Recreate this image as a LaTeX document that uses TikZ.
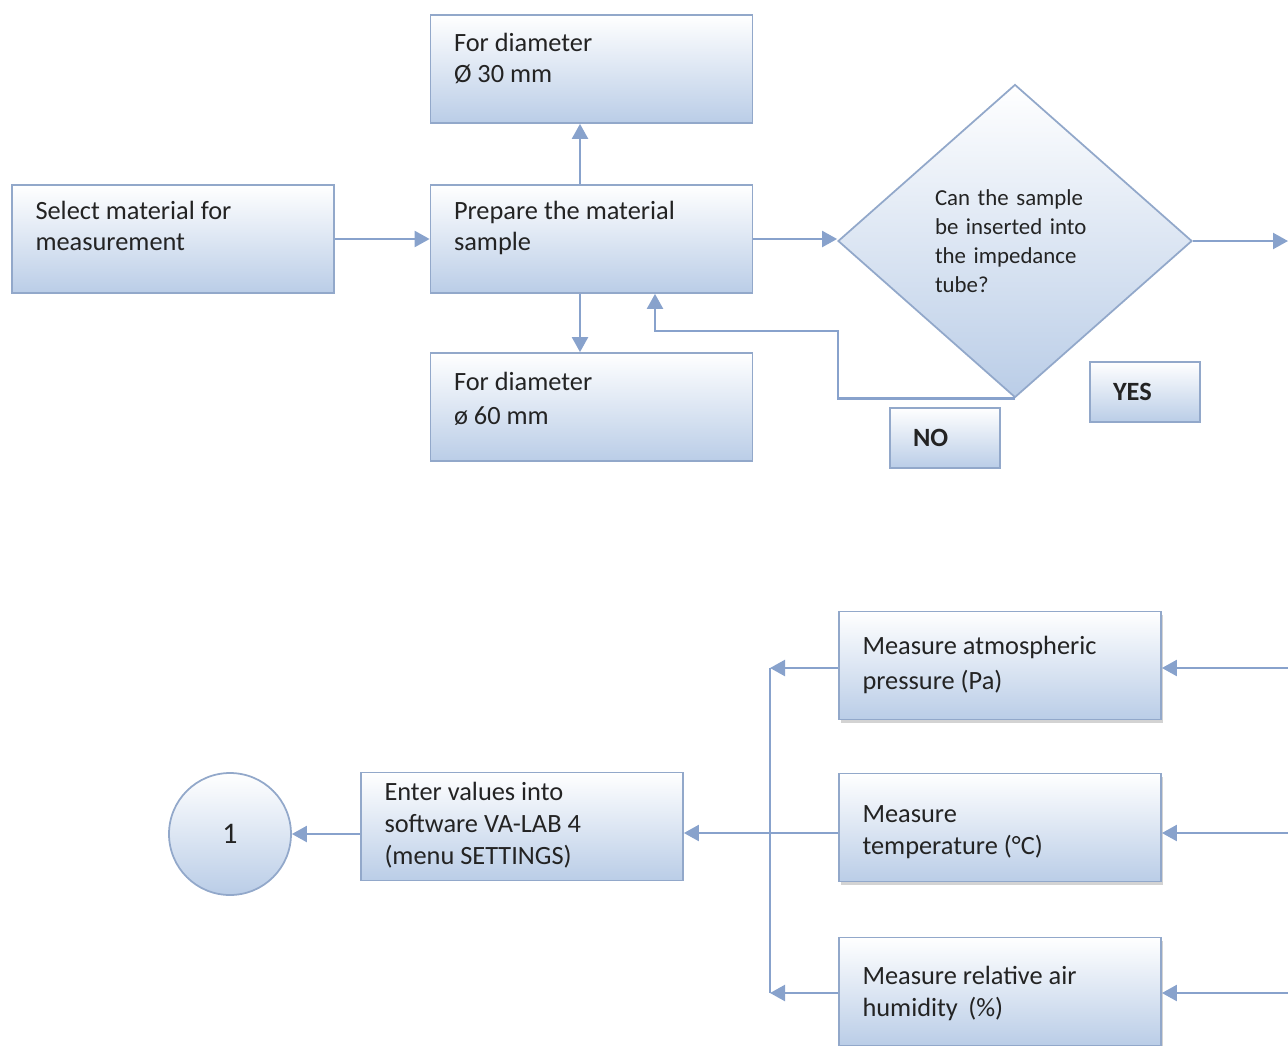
\documentclass[tikz,border=0pt]{standalone}
\usepackage{fontspec}
\setmainfont{Carlito}
\usetikzlibrary{positioning, calc, shapes.geometric, arrows.meta, shadows}

\definecolor{boxedge}{RGB}{146,168,202}
\definecolor{boxfill}{RGB}{186,205,231}
\definecolor{linecol}{RGB}{136,162,204}
\definecolor{txtgray}{RGB}{35,35,35}

% text at the top of a box: [top skip]{lines}
\newcommand{\btext}[2][0.32cm]{\parbox[c][2.16cm][t]{5.5cm}{\vspace*{#1}\raggedright #2}}

\begin{document}
\begin{tikzpicture}[block/.style={rectangle,draw=boxedge,line width=1pt,top color=white,bottom color=boxfill,minimum width=6.44cm,minimum height=2.16cm,inner sep=0pt,text=txtgray,font=\fontsize{15}{18}\selectfont},
 dec/.style={diamond,draw=boxedge,line width=1pt,top color=white,bottom color=boxfill,minimum width=7.08cm,minimum height=6.26cm,inner sep=0pt,text width=3.2cm,align=left,text=txtgray,font=\fontsize{13}{16.4}\selectfont},
 tag/.style={rectangle,draw=boxedge,line width=1pt,top color=white,bottom color=boxfill,minimum width=2.2cm,minimum height=1.2cm,inner sep=0pt,text width=1.28cm,align=left,text=txtgray,font=\fontsize{15}{18}\selectfont\bfseries},
 shade/.style={drop shadow={shadow xshift=0.03cm,shadow yshift=-0.07cm,opacity=0.35,fill=gray}},
 line/.style={draw=linecol,line width=1.3pt},
 arr/.style={line,-{Triangle[length=0.3cm,width=0.32cm]}} ]
\useasboundingbox (0,0) rectangle (25.76,-20.90);
\node (b1) [block] at (3.46,-4.78) {\btext{Select material for\\ measurement}};
\node (b2) [block] at (11.83,-4.78) {\btext{Prepare the material\\ sample}};
\node (b3) [block] at (11.83,-1.38) {\btext[0.36cm]{For diameter\\ Ø 30 mm}};
\node (b4) [block] at (11.83,-8.14) {\btext[0.38cm]{For diameter\\[1.7pt] ø 60 mm}};
\node (dia) [dec] at (20.30,-4.82) {Can the sample\\ be inserted into\\ the impedance\\ tube?};
\node (no) [tag] at (18.90,-8.76) {NO};
\node (yes) [tag] at (22.90,-7.84) {YES};
\node (b5) [block, shade] at (20.00,-13.31) {\btext[0.50cm]{Measure atmospheric\\[1.7pt] pressure (Pa)}};
\node (b6) [block, shade] at (20.00,-16.55) {\btext[0.64cm]{Measure\\ temperature (°C)}};
\node (b7) [block, shade] at (20.00,-19.83) {\btext[0.58cm]{Measure relative air\\ humidity\, (\%)}};
\node (b8) [block] at (10.44,-16.53) {\btext[0.20cm]{Enter values into\\ software VA-LAB 4\\ (menu SETTINGS)}};
\node (c1) [circle,draw=boxedge,line width=1pt,top color=white,bottom color=boxfill,minimum size=2.44cm,text=txtgray,font=\fontsize{17}{20}\selectfont] at (4.60,-16.68) {1};
\coordinate (r0) at (25.76,-4.80);
\coordinate (r1) at (25.76,-13.36);
\coordinate (r2) at (25.76,-16.66);
\coordinate (r3) at (25.76,-19.86);
\coordinate (l1) at (15.40,-13.36);
\coordinate (l3) at (15.40,-19.86);
  \begin{scope}
    \draw [arr] (b1) -- (b2);
    \draw [arr] ($(b2.north)+(-0.23,0)$) -- ($(b3.south)+(-0.23,0)$);
    \draw [arr] ($(b2.south)+(-0.23,0)$) -- ($(b4.north)+(-0.23,0)$);
    \draw [arr] (b2.east) -- (b2.east -| dia.west);
    \draw [arr] (dia.east) -- (dia.east -| r0);
    \draw [arr] (dia.south) -- ++(-3.54,0) |- ($(b2.south)+(1.27,-0.74)$) -- ($(b2.south)+(1.27,0)$);

    \draw [arr] (r1) -- (r1 -| b5.east);
    \draw [arr] (r2) -- (r2 -| b6.east);
    \draw [arr] (r3) -- (r3 -| b7.east);
    \draw [arr] (l1 -| b5.west) -- (l1);
    \draw [arr] (l3 -| b7.west) -- (l3);
    \draw [line] (l1) -- (l3);
    \draw [arr] (r2 -| b6.west) -- (r2 -| b8.east);
    \draw [arr] (c1.east -| b8.west) -- (c1.east);
  \end{scope}
\end{tikzpicture}
\end{document}
